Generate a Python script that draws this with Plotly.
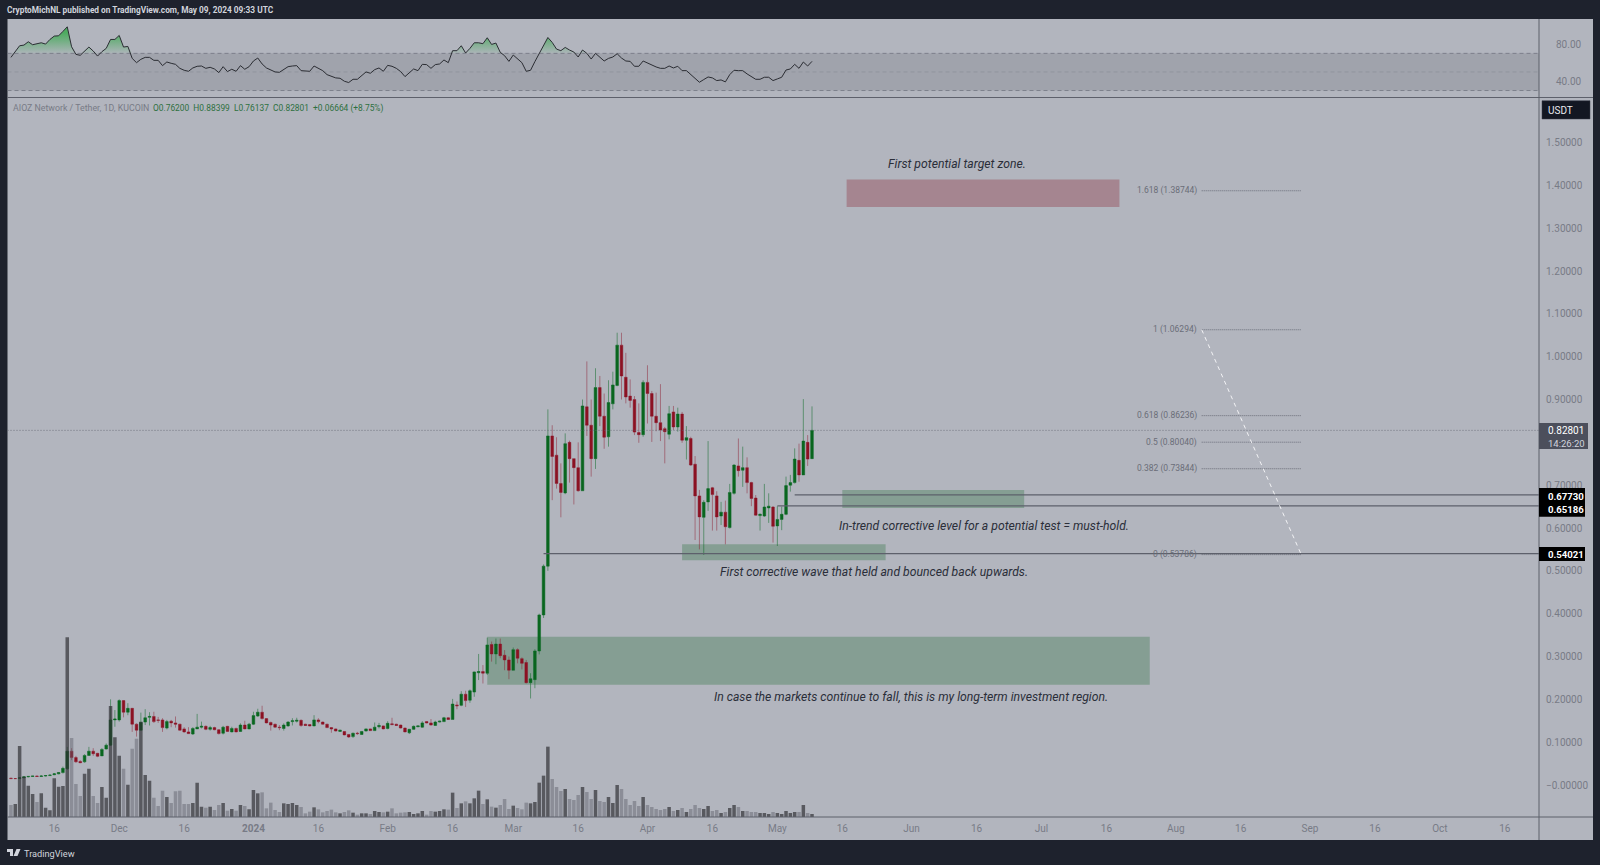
import numpy as np
import pandas as pd
import plotly.graph_objects as go

W, H = 1600, 865

# daily candles (2023-11-06 .. 2024-05-09)
opens = [
    .016, .015, .015, .017, .019, .020, .021, .020, .021, .022,
    .024, .026, .029, .038, .079, .064, .055, .054, .069, .079,
    .074, .068, .084, .093, .152, .152, .197, .170, .179, .142,
    .128, .147, .158, .160, .152, .152, .133, .149, .145, .142,
    .131, .124, .119, .131, .135, .137, .130, .134, .129, .121,
    .137, .124, .132, .125, .140, .131,
    .142, .161, .170, .155, .146, .142, .135, .132, .138, .148,
    .149, .151, .142, .141, .138, .152, .147, .142, .134, .131,
    .125, .125, .118, .113, .121, .118, .126, .131, .127, .136,
    .138, .132, .143, .142, .140, .133, .122, .130, .136, .135,
    .148, .145, .139, .147, .148, .157, .153, .187, .186, .212,
    .198, .217, .262, .265, .261, .328, .306, .329, .303, .292,
    .268, .316, .295, .286, .239, .246, .313, .397, .511, .815,
    .770, .704, .682, .800, .762, .741, .687, .883, .840, .762,
    .928, .861, .813, .890, .933, 1.027, .952, .908, .900, .823,
    .818, .940, .914, .861, .846, .832, .819, .871, .836, .866,
    .805, .809, .749, .675, .625, .661, .694, .675, .628, .637,
    .601, .681, .745, .735, .741, .706, .670, .629, .628, .647,
    .649, .605, .620, .632, .700, .706, .758, .724, .800, .76200,
]
highs = [
    .017, .016, .018, .020, .021, .021, .022, .023, .023, .025,
    .028, .030, .043, .089, .086, .068, .058, .072, .089, .086,
    .075, .086, .097, .200, .175, .200, .198, .191, .180, .144,
    .169, .177, .170, .171, .159, .156, .152, .152, .160, .143,
    .135, .135, .135, .166, .148, .139, .138, .136, .130, .138,
    .138, .136, .134, .144, .150, .145,
    .171, .178, .185, .156, .148, .143, .140, .144, .149, .156,
    .157, .153, .143, .142, .163, .156, .148, .143, .135, .132,
    .129, .126, .119, .122, .124, .126, .132, .132, .146, .145,
    .139, .149, .157, .143, .141, .134, .131, .139, .139, .149,
    .149, .154, .150, .150, .159, .158, .201, .195, .219, .220,
    .223, .265, .306, .280, .344, .335, .342, .342, .315, .300,
    .321, .319, .298, .292, .261, .317, .400, .515, .877, .840,
    .812, .751, .821, .804, .762, .800, .900, .989, .900, .973,
    .955, .914, .945, .965, 1.056, 1.056, 1.009, .947, .908, .891,
    .945, .980, .920, .916, .936, .836, .885, .885, .881, .871,
    .838, .813, .768, .689, .665, .803, .696, .686, .661, .664,
    .703, .749, .809, .790, .765, .708, .677, .634, .703, .681,
    .651, .651, .650, .720, .724, .786, .797, .901, .817, .88399,
]
lows = [
    .015, .014, .015, .016, .018, .019, .020, .019, .020, .021,
    .023, .025, .027, .035, .058, .052, .051, .052, .068, .068,
    .065, .068, .083, .091, .136, .148, .158, .163, .124, .113,
    .127, .140, .139, .145, .145, .124, .130, .135, .134, .127,
    .122, .119, .117, .131, .132, .128, .127, .128, .118, .118,
    .124, .123, .123, .124, .130, .130,
    .140, .159, .153, .144, .127, .134, .128, .127, .136, .139,
    .146, .136, .138, .137, .137, .144, .141, .133, .122, .125,
    .124, .116, .110, .110, .117, .117, .125, .126, .126, .132,
    .130, .130, .140, .138, .132, .123, .119, .129, .135, .134,
    .144, .139, .138, .146, .147, .152, .153, .177, .184, .182,
    .192, .206, .245, .237, .257, .288, .282, .296, .268, .247,
    .268, .284, .270, .237, .202, .226, .305, .390, .500, .665,
    .692, .625, .679, .706, .655, .685, .687, .815, .720, .738,
    .838, .785, .790, .877, .931, .900, .891, .881, .817, .799,
    .813, .844, .801, .826, .803, .751, .807, .829, .825, .799,
    .760, .745, .572, .550, .537, .640, .594, .594, .607, .562,
    .599, .678, .720, .696, .681, .651, .629, .594, .626, .612,
    .566, .558, .595, .630, .685, .704, .708, .724, .745, .76137,
]
closes = [
    .015, .015, .017, .019, .020, .021, .020, .021, .022, .023,
    .026, .029, .039, .079, .064, .054, .052, .069, .079, .073,
    .067, .083, .093, .152, .154, .197, .170, .179, .142, .128,
    .146, .157, .160, .148, .151, .134, .148, .145, .142, .128,
    .124, .120, .132, .135, .137, .130, .134, .129, .120, .135,
    .125, .132, .124, .140, .131, .142,
    .162, .170, .155, .145, .140, .135, .134, .140, .147, .150,
    .151, .139, .139, .138, .152, .148, .142, .134, .131, .126,
    .128, .117, .112, .121, .120, .125, .131, .127, .135, .139,
    .131, .144, .141, .139, .133, .124, .130, .137, .138, .145,
    .145, .140, .147, .149, .157, .153, .189, .185, .212, .197,
    .220, .264, .265, .261, .327, .306, .329, .302, .292, .268,
    .316, .296, .284, .239, .248, .313, .397, .511, .815, .767,
    .704, .683, .797, .762, .741, .687, .885, .840, .762, .928,
    .861, .812, .893, .934, 1.027, .955, .906, .898, .824, .818,
    .940, .914, .861, .846, .829, .825, .867, .836, .866, .805,
    .811, .747, .675, .626, .660, .692, .678, .626, .637, .603,
    .683, .747, .734, .741, .706, .669, .630, .632, .649, .651,
    .604, .620, .632, .699, .706, .761, .724, .803, .761, .82801,
]
volumes = [
    36, 39, 213, 121, 94, 69, 45, 71, 28, 20,
    116, 91, 93, 539, 237, 99, 63, 130, 145, 63,
    42, 90, 58, 333, 239, 184, 145, 97, 205, 235,
    286, 126, 109, 58, 33, 79, 60, 42, 77, 79,
    39, 39, 42, 103, 31, 28, 31, 21, 36, 42,
    19, 24, 19, 36, 33, 23, 81, 71, 74, 26,
    43, 21, 15, 41, 39, 42, 36, 30, 11, 16,
    29, 23, 14, 18, 22, 14, 11, 15, 20, 13,
    7, 11, 11, 9, 18, 15, 14, 16, 26, 11,
    13, 14, 15, 9, 11, 18, 7, 18, 16, 18,
    23, 22, 73, 27, 41, 47, 41, 56, 79, 39,
    53, 31, 28, 36, 54, 24, 34, 27, 23, 43,
    41, 45, 103, 124, 211,
    114, 90, 78, 84, 54, 51, 66, 90, 75, 54,
    81, 48, 45, 60, 42, 96, 84, 54, 36, 48,
    33, 60, 36, 30, 24, 21, 24, 30, 18, 21,
    27, 15, 24, 36, 27, 24, 33, 18, 21, 12,
    15, 27, 36, 30, 18, 18, 15, 15, 12, 12,
    9, 15, 12, 9, 18, 12, 15, 15, 36, 12, 9,
]
rsi = [
    65.7, 71.8, 78.2, 78.9, 82.5, 79.3, 80.4, 81.4, 80.0, 85.0,
    88.6, 88.9, 93.6, 98.6, 77.1, 68.9, 67.9, 72.9, 76.8, 72.5,
    67.1, 71.8, 75.4, 85.0, 85.0, 89.3, 76.8, 77.5, 64.6, 60.0,
    63.6, 65.7, 65.7, 62.5, 62.5, 56.8, 60.7, 59.3, 58.2, 53.9,
    51.8, 50.7, 54.3, 56.1, 56.4, 53.9, 55.0, 53.2, 49.3, 55.7,
    50.4, 52.9, 50.7, 56.8, 52.9, 55.7, 61.8, 65.0, 58.6, 54.3,
    52.5, 50.0, 49.6, 52.9, 55.7, 56.4, 56.8, 51.4, 51.4, 50.7,
    56.4, 53.9, 51.4, 47.1, 45.4, 43.6, 43.2, 40.0, 38.6, 42.1,
    42.1, 45.7, 50.0, 48.6, 52.5, 54.3, 50.7, 57.1, 56.1, 53.9,
    50.4, 45.0, 48.6, 53.2, 51.4, 58.2, 57.9, 53.9, 57.9, 58.6,
    62.9, 60.0, 72.9, 72.9, 78.2, 70.4, 75.4, 81.4, 81.4, 80.4,
    86.8, 79.6, 81.1, 71.1, 67.5, 61.4, 68.2, 63.6, 60.0, 50.7,
    51.8, 61.1, 70.0, 78.6, 87.1, 81.8, 74.6, 72.9, 76.4, 73.6,
    71.4, 66.1, 73.6, 70.0, 63.9, 70.0, 65.7, 61.8, 64.6, 66.1,
    69.6, 65.0, 61.8, 61.4, 56.1, 56.1, 61.8, 59.6, 56.8, 55.4,
    53.9, 53.9, 56.4, 54.3, 56.1, 51.4, 51.4, 47.1, 42.9, 38.9,
    41.8, 44.6, 43.6, 40.7, 41.4, 39.3, 47.1, 51.8, 51.4, 51.4,
    47.9, 44.6, 42.1, 42.1, 44.3, 44.3, 40.7, 42.5, 44.3, 52.1,
    53.2, 58.2, 53.9, 60.7, 56.4, 61.4,
]

# axis labels
price_ticks = [1.5, 1.4, 1.3, 1.2, 1.1, 1.0, .9, .8, .7, .6, .5, .4, .3, .2, .1, 0]
price_labels = [f"{p:.5f}" for p in price_ticks[:-1]] + ["−0.00000"]
time_ticks = ["2023-11-16", "2023-12-01", "2023-12-16", "2024-01-01", "2024-01-16",
              "2024-02-01", "2024-02-16", "2024-03-01", "2024-03-16", "2024-04-01",
              "2024-04-16", "2024-05-01", "2024-05-16", "2024-06-01", "2024-06-16",
              "2024-07-01", "2024-07-16", "2024-08-01", "2024-08-16", "2024-09-01",
              "2024-09-16", "2024-10-01", "2024-10-16"]
time_labels = ["16", "Dec", "16", "<b>2024</b>", "16", "Feb", "16", "Mar", "16", "Apr",
               "16", "May", "16", "Jun", "16", "Jul", "16", "Aug", "16", "Sep",
               "16", "Oct", "16"]
rsi_ticks = [80, 40]

# drawings on the chart, in dates and prices
fib_ratios = ["1.618", "1", "0.618", "0.5", "0.382", "0"]
fib_prices = [1.38744, 1.06294, .86236, .80040, .73844, .53786]
fib_start, fib_end = "2024-08-07", "2024-08-30"
green_zones = [("2024-02-24", "2024-07-26", .2342, .3462),
               ("2024-04-09", "2024-05-26", .525, .562),
               ("2024-05-16", "2024-06-27", .647, .689)]
red_zone = ("2024-05-17", "2024-07-19", 1.3495, 1.4135)
level_lines = [("2024-05-05", .6773), ("2024-05-01", .65186), ("2024-03-08", .54021)]
last_close = 0.82801
x_range = ["2023-11-05 04:48", "2024-10-23 21:36"]

BG = "#1e222d"
PANEL = "#b2b5be"
AXIS_TEXT = "#787b86"
LINE = "#5d606b"
FONT = "Roboto"


def px(x):
    return x / W


def py(y):
    return 1 - y / H


dates = pd.date_range("2023-11-06", periods=len(closes), freq="D")
rsi_arr = np.array(rsi)

fig = go.Figure()

# rsi pane
fig.add_trace(go.Scatter(x=dates, y=[70] * len(dates), yaxis="y2", mode="lines",
                         line=dict(width=0), hoverinfo="skip", showlegend=False))
fig.add_trace(go.Scatter(x=dates, y=np.clip(rsi_arr, 70, None), yaxis="y2", mode="lines",
                         line=dict(width=0), fill="tonexty", hoverinfo="skip", showlegend=False,
                         fillgradient=dict(type="vertical", start=92, stop=70,
                                           colorscale=[[0, "rgba(60,170,80,0.85)"],
                                                       [1, "rgba(60,170,80,0.05)"]])))
fig.add_trace(go.Scatter(x=dates, y=rsi, yaxis="y2", mode="lines", showlegend=False,
                         line=dict(color="#2b2d33", width=1)))

# candles
fig.add_trace(go.Candlestick(
    x=dates, open=opens, high=highs, low=lows, close=closes, showlegend=False,
    whiskerwidth=0,
    increasing=dict(line=dict(color="rgba(10,105,35,0.5)", width=1), fillcolor="#0a661f"),
    decreasing=dict(line=dict(color="rgba(140,20,40,0.45)", width=1), fillcolor="#8c1222"),
))

# volume sits on its own overlaying axis so it draws over the candles
vol_colors = ["rgba(45,45,50,0.68)" if c >= o else "rgba(90,93,105,0.45)"
              for o, c in zip(opens, closes)]
fig.add_trace(go.Bar(x=dates, y=volumes, yaxis="y3", marker=dict(color=vol_colors, line_width=0),
                     width=7.0e7, showlegend=False))

shapes = [
    # panel background
    dict(type="rect", xref="paper", yref="paper", x0=px(7.5), x1=px(1593), y0=py(840), y1=py(19),
         fillcolor=PANEL, line_width=0, layer="below"),
    # rsi band and levels
    dict(type="rect", xref="x", yref="y2", x0=x_range[0], x1=x_range[1], y0=30, y1=70,
         fillcolor="rgba(120,123,134,0.3)", line_width=0, layer="below"),
]
for lvl, alpha in [(70, 0.9), (50, 0.35), (30, 0.9)]:
    shapes.append(dict(type="line", xref="x", yref="y2", x0=x_range[0], x1=x_range[1], y0=lvl, y1=lvl,
                       line=dict(color=f"rgba(120,123,134,{alpha})", width=1, dash="4px,3px"), layer="below"))

# zones
for x0, x1, y0, y1 in green_zones:
    shapes.append(dict(type="rect", xref="x", yref="y", x0=x0, x1=x1, y0=y0, y1=y1,
                       fillcolor="rgba(60,120,75,0.38)", line_width=0, layer="below"))
shapes.append(dict(type="rect", xref="x", yref="y", x0=red_zone[0], x1=red_zone[1], y0=red_zone[2], y1=red_zone[3],
                   fillcolor="rgba(140,30,47,0.32)", line_width=0, layer="below"))

# last price and support lines
shapes.append(dict(type="line", xref="x", yref="y", x0=x_range[0], x1=x_range[1], y0=last_close, y1=last_close,
                   line=dict(color="rgba(100,103,115,0.8)", width=1, dash="1px,2px")))
for start, level in level_lines:
    shapes.append(dict(type="line", xref="x", yref="y", x0=start, x1=x_range[1], y0=level, y1=level,
                       line=dict(color=LINE, width=1.2)))

# fib levels and trend
for level in fib_prices:
    shapes.append(dict(type="line", xref="x", yref="y", x0=fib_start, x1=fib_end, y0=level, y1=level,
                       line=dict(color="rgba(90,93,105,0.8)", width=1, dash="1px,1px")))
shapes.append(dict(type="line", xref="x", yref="y", x0=fib_start, x1=fib_end, y0=fib_prices[1], y1=fib_prices[5],
                   line=dict(color="rgba(245,245,248,0.95)", width=1, dash="4px,4px")))

# pane borders
shapes += [
    dict(type="line", xref="paper", yref="paper", x0=px(7.5), x1=px(1593), y0=py(97.5), y1=py(97.5),
         line=dict(color=LINE, width=1.2)),
    dict(type="line", xref="paper", yref="paper", x0=px(7.5), x1=px(1593), y0=py(817), y1=py(817),
         line=dict(color=LINE, width=1)),
    dict(type="line", xref="paper", yref="paper", x0=px(1539), x1=px(1539), y0=py(840), y1=py(19),
         line=dict(color=LINE, width=1)),
]


def price_box(y0, y1, x1, color):
    return dict(type="rect", xref="paper", yref="paper", x0=px(1539), x1=px(x1), y0=py(y1), y1=py(y0),
                fillcolor=color, line_width=0)


shapes += [
    price_box(423, 449, 1588, "#4c4f5c"),
    price_box(488, 516.7, 1585, "#000000"),
    price_box(547, 561, 1585, "#000000"),
    dict(type="rect", xref="paper", yref="paper", x0=px(1542), x1=px(1590), y0=py(119), y1=py(100.7),
         fillcolor="#131722", line=dict(color="#3a3e4a", width=0.5)),
]

# tradingview logo
shapes.append(dict(type="path", xref="paper", yref="paper", line_width=0, fillcolor="#d1d4dc",
                   path=f"M {px(7)} {py(849)} L {px(13)} {py(849)} L {px(13)} {py(856)} L {px(10)} {py(856)} "
                        f"L {px(10)} {py(852)} L {px(7)} {py(852)} Z "
                        f"M {px(16.5)} {py(849)} L {px(20.5)} {py(849)} L {px(17.5)} {py(856)} L {px(13.5)} {py(856)} Z"))


def label(x, y, text, size=10, color=AXIS_TEXT, anchor="left", **kw):
    return dict(xref="paper", yref="paper", x=px(x), y=py(y), text=text, showarrow=False,
                xanchor=anchor, yanchor="middle", font=dict(family=FONT, size=size, color=color), **kw)


def note(x, y, text):
    a = label(x, y, text, size=12.2, color="#2a2e39", anchor="center")
    a["font"]["style"] = "italic"
    return a


annotations = [
    label(5, 10.3, "<b>CryptoMichNL published on TradingView.com, May 09, 2024 09:33 UTC</b>", size=8.3, color="#d1d4dc"),
    label(10.5, 108.5, "AIOZ Network / Tether, 1D, KUCOIN", size=8.8, color=AXIS_TEXT),
    label(151, 108.5, "O0.76200  H0.88399  L0.76137  C0.82801  +0.06664 (+8.75%)", size=8.4, color="#2e7040"),
    note(957, 163.5, "First potential target zone."),
    note(983.6, 525.5, "In-trend corrective level for a potential test = must-hold."),
    note(874.5, 572, "First corrective wave that held and bounced back upwards."),
    note(911, 697, "In case the markets continue to fall, this is my long-term investment region."),
    label(1546, 110, "USDT", size=10, color="#e8e9ee"),
    label(1546, 430.5, "0.82801", size=10, color="#ffffff"),
    label(1546, 443, "14:26:20", size=9.5, color="#d1d4dc"),
    label(1546, 496, "<b>0.67730</b>", size=9.6, color="#ffffff"),
    label(1546, 509.7, "<b>0.65186</b>", size=9.6, color="#ffffff"),
    label(1546, 554.3, "<b>0.54021</b>", size=9.6, color="#ffffff"),
    label(21.5, 853, "TradingView", size=9.2, color="#d1d4dc"),
]
for ratio, level in zip(fib_ratios, fib_prices):
    annotations.append(dict(xref="paper", yref="y", x=px(1199), y=level, text=f"{ratio} ({level:.5f})",
                            showarrow=False, xanchor="right", yanchor="middle",
                            font=dict(family=FONT, size=8.5, color="#6a6d78")))

tick_font = dict(family=FONT, size=10, color=AXIS_TEXT)
main_top, main_bottom = (785 - 97.5) / 428.3, (785 - 817) / 428.3

fig.update_layout(
    width=W, height=H,
    margin=dict(l=0, r=0, t=0, b=0),
    paper_bgcolor=BG,
    plot_bgcolor="rgba(0,0,0,0)",
    showlegend=False,
    boxgap=0.12,
    font=dict(family=FONT),
    shapes=shapes,
    annotations=annotations,
    xaxis=dict(domain=[px(7.5), px(1539)], range=x_range, type="date", anchor="y",
               rangeslider=dict(visible=False), showgrid=False, zeroline=False, showline=False, ticks="",
               tickmode="array", tickvals=time_ticks, ticktext=time_labels, tickangle=0,
               tickfont=tick_font, ticklabelstandoff=4),
    yaxis=dict(domain=[py(817), py(97.5)], range=[main_bottom, main_top], side="right", anchor="x",
               showgrid=False, zeroline=False, showline=False, ticks="",
               tickmode="array", tickvals=price_ticks, ticktext=price_labels,
               tickfont=tick_font, ticklabelstandoff=6),
    yaxis2=dict(domain=[py(97.5), py(19)], range=[22.5, 107], side="right", anchor="x",
                showgrid=False, zeroline=False, showline=False, ticks="",
                tickmode="array", tickvals=rsi_ticks, ticktext=[f"{v:.2f}" for v in rsi_ticks],
                tickfont=tick_font, ticklabelstandoff=16),
    yaxis3=dict(overlaying="y", range=[0, 2158], side="left", visible=False, anchor="x"),
)

# the default 8px body margin would push the figure off the window
fig.write_html("out.html", config={"displayModeBar": False},
               post_script="document.body.style.margin='0';")
